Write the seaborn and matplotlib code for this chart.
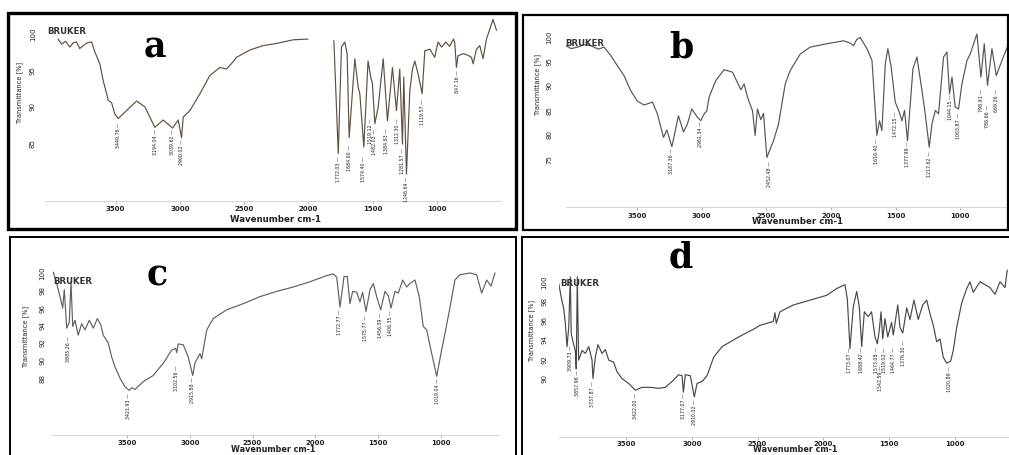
import matplotlib
matplotlib.use("Agg")
import matplotlib.pyplot as plt
import numpy as np
import pandas as pd
import seaborn as sns

sns.set_theme(style="white")
plt.rcParams['font.family'] = ['DejaVu Sans']

# ---------------- data (wavenumber cm-1, transmittance %) ----------------
xticks = [3500, 3000, 2500, 2000, 1500, 1000]

# panel a (two drawn segments, gap between ~2000 and 1800)
a_wn_1 = [3949, 3920, 3890, 3856, 3830, 3804, 3780, 3752, 3720, 3687, 3661, 3623, 3597, 3570,
          3558, 3532, 3506, 3480, 3415, 3337, 3272, 3195, 3130, 3057, 3013, 2987, 2974, 2922,
          2844, 2767, 2689, 2637, 2600, 2559, 2455, 2352, 2247, 2118, 2002]
a_tr_1 = [99.3, 98.6, 99.0, 98.2, 98.8, 98.9, 98.0, 98.4, 98.8, 98.9, 97.5, 95.9, 93.6, 91.8,
          90.9, 90.6, 89.0, 88.4, 89.5, 90.8, 90.0, 87.2, 88.2, 87.1, 88.2, 85.8, 88.6, 89.5,
          91.8, 94.3, 95.4, 95.2, 95.9, 96.8, 97.8, 98.4, 98.7, 99.2, 99.3]
a_wn_2 = [1801, 1767, 1742, 1716, 1698, 1682, 1638, 1612, 1599, 1568, 1535, 1514, 1501, 1482,
          1456, 1417, 1384, 1345, 1314, 1288, 1267, 1257, 1236, 1210, 1189, 1171, 1145, 1114,
          1093, 1054, 1016, 990, 963, 930, 900, 870, 860, 847, 835, 795, 760, 730, 717, 691,
          665, 640, 613, 562, 535]
a_tr_2 = [99.1, 83.6, 98.2, 98.9, 97.3, 85.8, 96.6, 92.7, 91.8, 84.5, 96.3, 94.1, 93.2, 87.7,
          90.0, 96.6, 88.1, 95.4, 89.5, 95.2, 84.9, 94.1, 80.8, 92.2, 95.2, 96.3, 94.5, 91.8,
          97.7, 97.9, 96.8, 98.9, 98.2, 98.9, 98.3, 99.3, 98.8, 95.4, 97.0, 97.3, 97.1, 96.8,
          95.9, 97.9, 98.4, 96.6, 99.3, 102.0, 100.5]
a_peak_lbl = ["3449.76", "3194.04", "3039.62", "2960.02", "1772.03", "1684.60", "1574.40",
              "1519.12", "1482.03", "1384.83", "1312.30", "1281.57", "1246.64", "1119.57", "847.16"]
a_peak_wn = [3480, 3189, 3060, 2987, 1768, 1682, 1568, 1514, 1482, 1391, 1309, 1267, 1236, 1114, 842]
a_peak_tr = [88.0, 87.0, 87.0, 85.6, 83.3, 84.9, 83.3, 88.5, 87.0, 87.2, 88.5, 84.5, 80.6, 91.1, 95.2]

# panel b
b_wn = [4052, 4010, 3962, 3910, 3858, 3800, 3755, 3704, 3652, 3601, 3549, 3498, 3446, 3381,
        3343, 3296, 3270, 3231, 3180, 3141, 3111, 3077, 3033, 3007, 2981, 2961, 2943, 2891,
        2827, 2762, 2697, 2672, 2646, 2607, 2587, 2569, 2543, 2522, 2496, 2445, 2406, 2354,
        2316, 2238, 2161, 2032, 1903, 1850, 1826, 1800, 1774, 1750, 1722, 1683, 1645, 1625,
        1606, 1580, 1560, 1534, 1503, 1477, 1451, 1431, 1408, 1366, 1335, 1296, 1271, 1240,
        1219, 1193, 1168, 1129, 1103, 1083, 1064, 1039, 1013, 987, 948, 923, 871, 840, 814,
        789, 755, 721, 677, 626]
b_tr = [98.2, 97.6, 97.9, 98.4, 98.2, 97.5, 97.9, 96.2, 94.1, 92.1, 89.0, 86.9, 86.1, 86.7,
        84.3, 79.5, 81.0, 77.6, 83.9, 80.6, 82.2, 85.3, 83.6, 82.9, 84.3, 84.9, 87.7, 91.1,
        93.3, 92.8, 89.2, 90.4, 87.7, 84.9, 79.9, 85.3, 83.1, 84.4, 75.4, 78.8, 82.2, 90.4,
        93.1, 96.5, 97.9, 98.6, 99.2, 98.7, 98.2, 99.5, 99.9, 98.8, 97.6, 95.2, 79.9, 82.9,
        80.9, 94.5, 97.6, 93.8, 86.7, 85.0, 82.9, 85.0, 78.8, 93.5, 95.9, 89.0, 84.3, 77.5,
        82.2, 85.0, 84.3, 95.9, 96.9, 88.4, 91.8, 85.7, 85.3, 90.4, 95.2, 96.5, 100.6, 91.8, 98.6,
        90.1, 97.6, 92.1, 95.2, 98.6]
b_peak_lbl = ["3187.36", "2961.34", "2452.48", "1616.40", "1472.15", "1377.99", "1217.62",
              "1044.15", "1003.87", "798.91", "786.66", "669.26"]
b_peak_wn = [3231, 3007, 2478, 1650, 1503, 1408, 1238, 1072, 1013, 832, 789, 721]
b_peak_tr = [77.5, 82.9, 74.8, 79.5, 85.0, 78.8, 76.8, 88.4, 84.6, 89.4, 86.3, 89.4]

# panel c
c_wn = [4087, 4060, 4033, 4012, 3999, 3980, 3959, 3946, 3932, 3914, 3888, 3861, 3834, 3800,
        3768, 3736, 3709, 3689, 3649, 3622, 3596, 3556, 3516, 3482, 3460, 3436, 3370, 3291,
        3211, 3144, 3112, 3104, 3092, 3052, 3012, 2977, 2959, 2919, 2905, 2865, 2813, 2706,
        2574, 2441, 2308, 2176, 2043, 1910, 1857, 1830, 1804, 1772, 1746, 1725, 1703, 1671,
        1645, 1624, 1597, 1565, 1539, 1512, 1480, 1446, 1419, 1398, 1366, 1340, 1305, 1273,
        1247, 1207, 1173, 1141, 1114, 1074, 1034, 995, 968, 928, 889, 849, 769, 716, 676, 636,
        602, 570]
c_tr = [100.1, 98.8, 97.3, 96.0, 98.1, 93.7, 94.4, 99.0, 93.9, 94.6, 92.9, 94.2, 93.5, 94.6,
        93.7, 94.8, 94.1, 92.9, 92.0, 90.4, 89.3, 88.0, 87.0, 86.6, 86.9, 86.7, 87.6, 88.3,
        89.7, 91.2, 91.4, 90.9, 91.9, 91.8, 90.4, 88.3, 89.7, 90.8, 90.2, 93.5, 94.8, 95.8,
        96.5, 97.3, 97.9, 98.4, 99.0, 99.7, 99.9, 99.5, 96.1, 99.6, 99.6, 96.5, 97.9, 97.8,
        96.7, 97.8, 95.6, 98.1, 98.8, 97.3, 95.8, 97.9, 97.4, 96.0, 97.9, 97.7, 99.2, 98.4,
        98.8, 99.2, 97.3, 93.9, 93.5, 90.8, 88.2, 91.2, 93.1, 96.1, 99.2, 99.8, 100.0, 99.8, 97.7,
        99.2, 98.5, 100.0]
c_peak_lbl = ["3885.26", "3421.93", "3102.56", "2915.88", "1772.77", "1575.77", "1456.39",
              "1406.35", "1019.04"]
c_peak_wn = [3967, 3484, 3104, 2977, 1804, 1597, 1480, 1398, 1029]
c_peak_tr = [92.9, 86.4, 89.5, 88.2, 95.9, 95.3, 95.6, 95.8, 88.1]

# panel d
d_wn = [4011, 3992, 3973, 3961, 3948, 3935, 3923, 3916, 3897, 3885, 3878, 3870, 3860, 3834,
        3809, 3783, 3758, 3751, 3733, 3713, 3682, 3657, 3631, 3594, 3568, 3530, 3480, 3429,
        3378, 3315, 3252, 3201, 3150, 3100, 3074, 3064, 3049, 3011, 2981, 2960, 2922, 2884,
        2834, 2770, 2644, 2517, 2482, 2381, 2368, 2358, 2330, 2229, 2102, 1975, 1899, 1836,
        1818, 1798, 1773, 1747, 1727, 1709, 1689, 1659, 1634, 1608, 1590, 1575, 1562, 1549,
        1532, 1511, 1482, 1469, 1435, 1418, 1397, 1367, 1342, 1312, 1279, 1246, 1215, 1190,
        1165, 1139, 1114, 1089, 1063, 1033, 1013, 987, 949, 911, 886, 861, 810, 734, 696, 658,
        620, 603]
d_tr = [99.8, 98.4, 97.2, 95.7, 93.3, 95.3, 100.5, 94.6, 93.5, 92.9, 91.0, 100.5, 91.9, 92.9,
        92.6, 93.3, 91.9, 90.0, 92.2, 93.5, 92.6, 93.0, 91.9, 91.7, 90.7, 90.0, 89.5, 88.8,
        89.1, 89.1, 89.0, 89.1, 89.7, 90.4, 90.3, 88.6, 90.4, 90.3, 88.1, 89.5, 89.7, 90.3,
        92.2, 93.3, 94.3, 95.2, 95.5, 95.9, 96.8, 95.7, 96.9, 97.6, 98.1, 98.6, 99.3, 99.7,
        98.2, 93.1, 97.4, 99.0, 97.4, 93.3, 96.9, 96.4, 96.9, 94.3, 93.6, 95.0, 96.9, 94.1,
        96.2, 94.3, 95.8, 94.5, 97.6, 95.3, 94.7, 97.3, 96.1, 98.1, 96.1, 97.6, 98.1, 96.7,
        95.5, 93.8, 94.1, 92.2, 91.6, 91.8, 92.9, 95.3, 97.8, 99.3, 100.0, 98.9, 100.0, 99.4,
        98.7, 100.0, 99.4, 101.2]
d_peak_lbl = ["3909.73", "3857.96", "3737.87", "3422.00", "3177.07", "2910.02", "1773.07",
              "1688.42", "1573.08", "1542.59", "1519.02", "1464.77", "1376.30", "1020.89"]
d_peak_wn = [3923, 3872, 3753, 3429, 3065, 2981, 1798, 1709, 1595, 1565, 1532, 1469, 1393, 1038]
d_peak_tr = [93.5, 90.9, 89.8, 88.6, 88.6, 87.9, 93.3, 93.3, 93.3, 91.4, 93.3, 93.3, 94.0, 91.4]

# ---------------- figure ----------------
W, H = 1009, 455
fig = plt.figure(figsize=(W / 100, H / 100), dpi=100)
fig.patch.set_facecolor("white")


def px_axes(x0, y0, x1, y1):
    return fig.add_axes([x0 / W, 1 - y1 / H, (x1 - x0) / W, (y1 - y0) / H])


def fpt(x, y):
    return x / W, 1 - y / H


panels = [
    dict(letter="a", box=(8, 13, 516, 229), box_lw=2.4,
         ax=(45, 19, 501, 201), xlim=(4050, 500), ylim=(77.1, 102.05),
         yticks=[85, 90, 95, 100], segs=[(a_wn_1, a_tr_1), (a_wn_2, a_tr_2)],
         peaks=(a_peak_wn, a_peak_tr, a_peak_lbl), color="#5f5040",
         ytl_pad=6.5, ylab=(20, 92), xtl_pad=1.6, xlab=(276, 220), xlab_fs=6.2,
         letter_pos=(155, 58), bruker=(67, 31)),
    dict(letter="b", box=(523, 15, 1008, 230), box_lw=1.6,
         ax=(566, 30, 1021, 207), xlim=(4050, 530), ylim=(65.3, 101.4),
         yticks=[75, 80, 85, 90, 95, 100], segs=[(b_wn, b_tr)],
         peaks=(b_peak_wn, b_peak_tr, b_peak_lbl), color="#555555",
         ytl_pad=10, ylab=(538, 84), xtl_pad=2.3, xlab=(797, 222), xlab_fs=6.2,
         letter_pos=(681, 57), bruker=(585, 44)),
    dict(letter="c", box=(10, 237, 516, 460), box_lw=1.4,
         ax=(52, 268, 498, 435), xlim=(4097, 546), ylim=(81.5, 100.57),
         yticks=[88, 90, 92, 94, 96, 98, 100], segs=[(c_wn, c_tr)],
         peaks=(c_peak_wn, c_peak_tr, c_peak_lbl), color="#606060",
         ytl_pad=5, ylab=(26, 336), xtl_pad=1.5, xlab=(273, 450), xlab_fs=5.8,
         letter_pos=(157, 285), bruker=(73, 282)),
    dict(letter="d", box=(522, 237, 1014, 460), box_lw=1.4,
         ax=(559, 268, 1020, 436.7), xlim=(4009, 506), ylim=(84.0, 101.42),
         yticks=[90, 92, 94, 96, 98, 100], segs=[(d_wn, d_tr)],
         peaks=(d_peak_wn, d_peak_tr, d_peak_lbl), color="#484848",
         ytl_pad=8.6, ylab=(532, 330), xtl_pad=1.2, xlab=(795, 450), xlab_fs=5.8,
         letter_pos=(681, 268), bruker=(580, 283)),
]

for p in panels:
    x0, y0, x1, y1 = p["ax"]
    ax = px_axes(x0, y0, x1, y1)
    ax.set_facecolor("none")
    for wn, tr in p["segs"]:
        df = pd.DataFrame({"wn": wn, "tr": tr})
        sns.lineplot(data=df, x="wn", y="tr", ax=ax, color=p["color"], linewidth=0.85,
                     sort=False, estimator=None)
    ax.set_xlim(*p["xlim"])
    ax.set_ylim(*p["ylim"])
    ax.set_xticks(xticks)
    ax.set_xticklabels([str(t) for t in xticks], fontsize=5, fontweight="bold", color="#222222")
    ax.set_yticks(p["yticks"])
    ax.set_yticklabels([str(t) for t in p["yticks"]], fontsize=5, color="#222222")
    for lbl in ax.get_yticklabels():
        lbl.set_rotation(90)
        lbl.set_va("center")
    ax.tick_params(axis="x", direction="out", length=2, width=0.5, color="#999999",
                   pad=p["xtl_pad"], bottom=True)
    ax.tick_params(axis="y", length=0, pad=p["ytl_pad"])
    for s in ["top", "right", "left"]:
        ax.spines[s].set_visible(False)
    ax.spines["bottom"].set_color("#cccccc")
    ax.spines["bottom"].set_linewidth(0.6)
    ax.grid(False)
    aw, ah = x1 - x0, y1 - y0
    ax.set_ylabel("Transmittance [%]", fontsize=4.8, color="#222222")
    ax.yaxis.set_label_coords((p["ylab"][0] - x0) / aw, (y1 - p["ylab"][1]) / ah)
    ax.yaxis.label.set_va("center")
    ax.set_xlabel("Wavenumber cm-1", fontsize=p["xlab_fs"], fontweight="bold", color="#222222")
    ax.xaxis.set_label_coords((p["xlab"][0] - x0) / aw, (y1 - p["xlab"][1]) / ah)
    ax.xaxis.label.set_va("center")
    pw, pt, pl = p["peaks"]
    for w, t, s in zip(pw, pt, pl):
        ax.annotate(f"{s} \u2014", xy=(w, t), xytext=(0, -0.5), textcoords="offset points",
                    rotation=90, ha="center", va="top", fontsize=3.4, color="#222222")
    # panel letter and brand
    fx, fy = fpt(*p["letter_pos"])
    fig.text(fx, fy, p["letter"], fontsize=25, fontweight="bold", family="DejaVu Serif",
             ha="center", va="baseline", color="black")
    bx, by = fpt(*p["bruker"])
    fig.text(bx, by, "BRUKER", fontsize=6.2, fontweight="bold", ha="center", va="center",
             color="#333333")
    # panel frame
    bx0, by0, bx1, by1 = p["box"]
    fig.add_artist(plt.Rectangle((bx0 / W, 1 - by1 / H), (bx1 - bx0) / W, (by1 - by0) / H,
                                 transform=fig.transFigure, fill=False, edgecolor="black",
                                 linewidth=p["box_lw"], clip_on=False))

fig.savefig("out.png", dpi=100, facecolor="white")
